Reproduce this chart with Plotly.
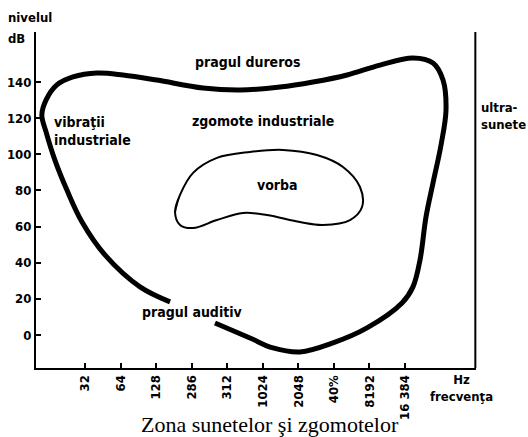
import plotly.graph_objects as go

# Outer boundary of the audible area (frequency in Hz, level in dB),
# split where the "pragul auditiv" label sits.
outer_left_hz = [168, 93.5, 47.2, 30.2, 22.5, 17.8, 15.0, 13.8, 15.0, 18.5, 25.3,
                 40.4, 67.1, 130, 319, 657, 1432, 2726, 5288, 10060, 19120,
                 28250, 34340, 36400, 33020, 28250, 24640, 21935, 19120, 15440,
                 7805, 4022, 2114, 1249, 798, 403]
outer_left_db = [18.3, 26.6, 44.3, 62.5, 80.2, 96.8, 112.3, 121.7, 130.1, 138.4, 142.8,
                 145.0, 143.9, 141.1, 136.7, 135.6, 137.2, 140.0, 143.9, 149.4, 153.3,
                 150.5, 141.1, 124.5, 105.1, 84.1, 65.3, 41.5, 26.6, 17.7,
                 3.9, -4.4, -9.4, -7.2, -1.7, 6.6]

# Speech area (closed loop)
speech_hz = [185, 204, 263, 419, 798, 1518, 2945, 4888, 6808, 7083, 5604,
             3311, 2114, 1111, 696, 419, 263, 204, 185, 204]
speech_db = [68.1, 77.5, 89.7, 98.0, 101.3, 102.4, 99.6, 93.0, 81.9, 70.8, 63.6,
             60.9, 62.5, 66.4, 67.5, 63.6, 59.2, 60.9, 68.1, 77.5]

x_tick_vals = [32, 64, 128, 256, 512, 1024, 2048, 4096, 8192, 16384]
x_tick_text = ["32", "64", "128", "286", "312", "1024", "2048", "40%", "8192", "16 384"]
y_tick_vals = [0, 20, 40, 60, 80, 100, 120, 140]

COND = "Liberation Sans Narrow, DejaVu Sans Condensed, Roboto Condensed, Arial Narrow, Liberation Sans, sans-serif"
SERIF = "Liberation Serif, DejaVu Serif, serif"

fig = go.Figure()
fig.add_trace(go.Scatter(
    x=outer_left_hz, y=outer_left_db, mode="lines",
    line=dict(color="black", width=5, shape="spline", smoothing=1.0),
    hoverinfo="skip", showlegend=False))
fig.add_trace(go.Scatter(
    x=speech_hz, y=speech_db, mode="lines",
    line=dict(color="black", width=2, shape="spline", smoothing=1.0),
    hoverinfo="skip", showlegend=False))

def label(text, x, y, size=14, xanchor="center", align="center", family=COND, bold=True):
    fig.add_annotation(
        text=f"<b>{text}</b>" if bold else text, x=x, y=y, xref="paper", yref="paper",
        showarrow=False, xanchor=xanchor, yanchor="middle", align=align,
        font=dict(family=family, size=size, color="black"))

label("nivelul", -0.068, 1.042, size=13, xanchor="left")
label("dB", -0.068, 0.982, size=13, xanchor="left")
label("pragul dureros", 0.482, 0.911)
label("zgomote industriale", 0.516, 0.735)
label("vibraţii<br>industriale", 0.036, 0.705, size=14, xanchor="left", align="left")
label("vorba", 0.548, 0.545)
label("pragul auditiv", 0.355, 0.167)
label("ultra-<br>sunete", 1.006, 0.75, size=13, xanchor="left", align="left")
label("Hz<br>frecvenţa", 0.968, -0.06, size=13)
label("Zona sunetelor şi zgomotelor", 0.532, -0.168, size=22, family=SERIF, bold=False)

# right border line (ultrasound limit)
fig.add_shape(type="line", xref="paper", yref="paper", x0=0.9985, x1=0.9985, y0=0, y1=1,
              line=dict(color="black", width=2))

fig.update_xaxes(
    type="log", range=[1.0904, 4.815], tickvals=x_tick_vals, ticktext=x_tick_text,
    tickangle=-90, ticks="inside", ticklen=5, tickwidth=1.5, tickcolor="black",
    showline=True, linecolor="black", linewidth=2, showgrid=False, zeroline=False,
    automargin=False,
    tickfont=dict(family=COND, size=13, color="black", weight="bold"))
fig.update_yaxes(
    range=[-18.3, 167.7], tickvals=y_tick_vals,
    ticks="inside", ticklen=5, tickwidth=1.5, tickcolor="black",
    showline=True, linecolor="black", linewidth=2, showgrid=False, zeroline=False,
    automargin=False, ticklabelstandoff=0,
    tickfont=dict(family=COND, size=13, color="black", weight="bold"))

fig.update_layout(
    width=528, height=437, margin=dict(l=36, r=52, t=32, b=69),
    plot_bgcolor="white", paper_bgcolor="white", showlegend=False)

fig.write_html("out.html")
